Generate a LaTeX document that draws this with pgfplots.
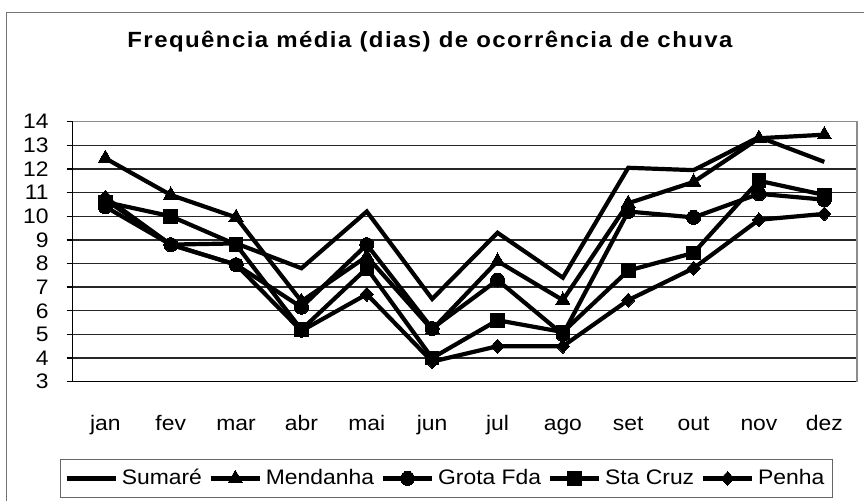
\documentclass[border=0pt]{standalone}
\usepackage{pgfplots}
\pgfplotsset{compat=1.18}
\usepackage{fontspec}
\setmainfont{Liberation Sans}
\usepackage{graphicx}
\newcommand\sx[1]{\scalebox{1.09}[1]{#1}}
\begin{document}
\begin{tikzpicture}
\useasboundingbox (0,0) rectangle (432pt,250.5pt);
\draw[black!55, line width=0.6pt] (3.35pt,-10pt) -- (3.35pt,244.35pt) -- (450pt,244.35pt);
\node[anchor=base, font=\fontsize{11}{13}\selectfont\bfseries] at (215pt,226.5pt) {\sx{\addfontfeature{LetterSpace=6}Frequência média (dias) de ocorrência de chuva}};
\begin{axis}[
 at={(36.35pt,59.65pt)}, anchor=south west,
 width=392.15pt, height=130pt, scale only axis,
 xmin=-0.5, xmax=11.5, ymin=3, ymax=14,
 axis x line*=bottom, axis y line*=left,
 axis line style={black, line width=0.7pt},
 tick align=outside,
 xtick={0,...,11},
 xticklabels={\sx{jan},\sx{fev},\sx{mar},\sx{abr},\sx{mai},\sx{jun},\sx{jul},\sx{ago},\sx{set},\sx{out},\sx{nov},\sx{dez}},
 x tick style={draw=none},
 minor xtick={-0.5,0.5,...,11.5},
 minor x tick style={black, line width=0.7pt},
 minor tick length=3pt,
 major tick length=3pt,
 ytick={3,...,13},
 extra y ticks={14},
 extra y tick style={grid=none},
 ymajorgrids,
 grid style={black!85, line width=0.7pt},
 y tick style={black, line width=0.7pt},
 yticklabel={\sx{\pgfmathprintnumber{\tick}}},
 /pgf/number format/assume math mode=true,
 ticklabel style={font=\fontsize{10.5}{12}\selectfont},
 yticklabel style={anchor=east, inner sep=0pt, xshift=-8.85pt},
 xticklabel style={anchor=base, inner sep=0pt, yshift=-21.5pt},
 clip=false,
 every axis plot/.append style={black, line width=2.1pt},
 legend columns=5,
 legend style={at={(rel axis cs:0.4766,-0.372)}, anchor=center, draw=black!60, line width=0.6pt,
   font=\fontsize{10.5}{12}\selectfont, inner xsep=2pt, inner ysep=3pt,
   /tikz/every even column/.append style={column sep=1.4pt}},
 legend image code/.code={\draw[mark repeat=2,mark phase=2,#1] plot coordinates {(0pt,0pt)(12.25pt,0pt)(24.5pt,0pt)};},
]
\draw[black!45, line width=0.7pt] (rel axis cs:0,1) -- (rel axis cs:1,1) -- (rel axis cs:1,0);
\addplot[no markers] coordinates {(0,10.7)(1,8.8)(2,8.85)(3,7.8)(4,10.2)(5,6.5)(6,9.3)(7,7.4)(8,12.05)(9,11.95)(10,13.35)(11,12.3)};
\addlegendentry{\sx{Sumaré}}
\addplot[mark=triangle*, mark size=4.1pt, mark options={solid, line width=0pt}] coordinates {(0,12.45)(1,10.9)(2,9.95)(3,6.4)(4,8.3)(5,5.2)(6,8.1)(7,6.45)(8,10.55)(9,11.45)(10,13.3)(11,13.45)};
\addlegendentry{\sx{Mendanha}}
\addplot[mark=*, mark size=3.5pt, mark options={solid, line width=0pt}] coordinates {(0,10.4)(1,8.8)(2,7.95)(3,6.15)(4,8.8)(5,5.25)(6,7.3)(7,5.0)(8,10.2)(9,9.95)(10,10.95)(11,10.7)};
\addlegendentry{\sx{Grota Fda}}
\addplot[mark=square*, mark size=3.4pt, mark options={solid, line width=0pt}] coordinates {(0,10.6)(1,10.0)(2,8.8)(3,5.2)(4,7.8)(5,4.0)(6,5.6)(7,5.1)(8,7.7)(9,8.45)(10,11.5)(11,10.9)};
\addlegendentry{\sx{Sta Cruz}}
\addplot[mark=diamond*, mark size=3.5pt, mark options={solid, line width=0pt, xscale=1.25}] coordinates {(0,10.8)(1,8.8)(2,7.95)(3,5.15)(4,6.7)(5,3.85)(6,4.5)(7,4.5)(8,6.45)(9,7.8)(10,9.85)(11,10.1)};
\addlegendentry{\sx{Penha}}
\end{axis}
\end{tikzpicture}
\end{document}
